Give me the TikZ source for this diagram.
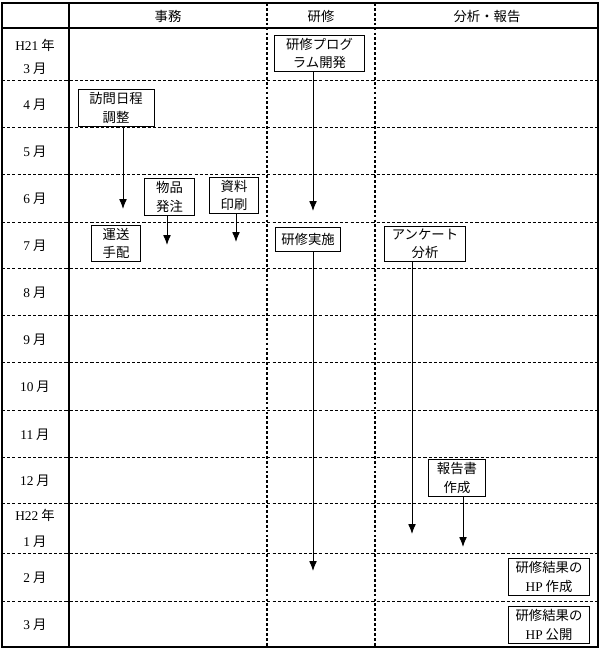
\documentclass[tikz,border=0pt]{standalone}
\usepackage{fontspec}
\setmainfont{Noto Sans CJK JP}
\newfontfamily\lat{Liberation Serif}
\usetikzlibrary{arrows.meta}

\begin{document}
\begin{tikzpicture}[x=0.025cm,y=-0.025cm,
  font=\fontsize{9.5}{13}\selectfont,
  task/.style={draw,fill=white,align=center,line width=0.6pt,inner xsep=8pt,inner ysep=2pt},
  rowline/.style={line width=0.5pt,dash pattern=on 2.2pt off 1.5pt},
  colline/.style={line width=1.2pt,dash pattern=on 2pt off 1.5pt},
  flow/.style={-{Latex[length=7pt,width=5.5pt]},line width=0.7pt}]
\useasboundingbox (0,0) rectangle (600,651);
\foreach \y in {80,127,174,222,268,315,362,410,457,503,553,601}
{
    \draw[rowline] (2,\y) -- (598,\y);
}
\draw[colline] (267,3) -- (267,647);
\draw[colline] (375,3) -- (375,647);
\draw[line width=0.8pt] (69,3) -- (69,647);
\draw[line width=0.8pt] (2,28) -- (598,28);
\draw[line width=1pt] (2,3) rectangle (598,647);
\node (hjimu) at (168,16) {事務};
\node (hkenshu) at (321,16) {研修};
\node (hbunseki) at (487,16) {分析・報告};
\node (y21) at (35,45) {{\lat H21} 年};
\node (m3a) at (35,69) {{\lat 3} 月};
\foreach \y/\m in {105/4,152/5,199/6,246/7,293/8,340/9,387/10,435/11,481/12}
{
    \node (m\m) at (35,\y) {{\lat\m} 月};
}
\node (y22) at (35,515) {{\lat H22} 年};
\node (m1) at (35,542) {{\lat 1} 月};
\node (m2) at (35,578) {{\lat 2} 月};
\node (m3b) at (35,625) {{\lat 3} 月};
\node[task] (plan) at (319.5,53.5) {研修プログ\\ラム開発};
\node[task] (visit) at (116,108) {訪問日程\\調整};
\node[task] (goods) at (169.5,197) {物品\\発注};
\node[task] (print) at (234,195.5) {資料\\印刷};
\node[task] (ship) at (116,243.5) {運送\\手配};
\node[task,inner xsep=4pt,inner ysep=4pt] (train) at (308,239.5) {研修実施};
\node[task,inner xsep=5pt] (survey) at (425,244) {アンケート\\分析};
\node[task,inner xsep=6pt] (report) at (457,478) {報告書\\作成};
\node[task,inner xsep=5pt] (hpmake) at (549,577) {研修結果の\\{\lat HP} 作成};
\node[task,inner xsep=5pt] (hppub) at (549,625) {研修結果の\\{\lat HP} 公開};
\coordinate (visitend) at (123,209);
\coordinate (planend) at (313,211);
\coordinate (goodsend) at (167,245);
\coordinate (printend) at (236,242);
\coordinate (trainend) at (313,571);
\coordinate (surveyend) at (412,534);
\coordinate (reportend) at (463,547);
\draw[flow] (visit.south -| visitend) -- (visitend);
\draw[flow] (plan.south -| planend) -- (planend);
\draw[flow] (goods.south -| goodsend) -- (goodsend);
\draw[flow] (print.south -| printend) -- (printend);
\draw[flow] (train.south -| trainend) -- (trainend);
\draw[flow] (survey.south -| surveyend) -- (surveyend);
\draw[flow] (report.south -| reportend) -- (reportend);
\end{tikzpicture}
\end{document}
